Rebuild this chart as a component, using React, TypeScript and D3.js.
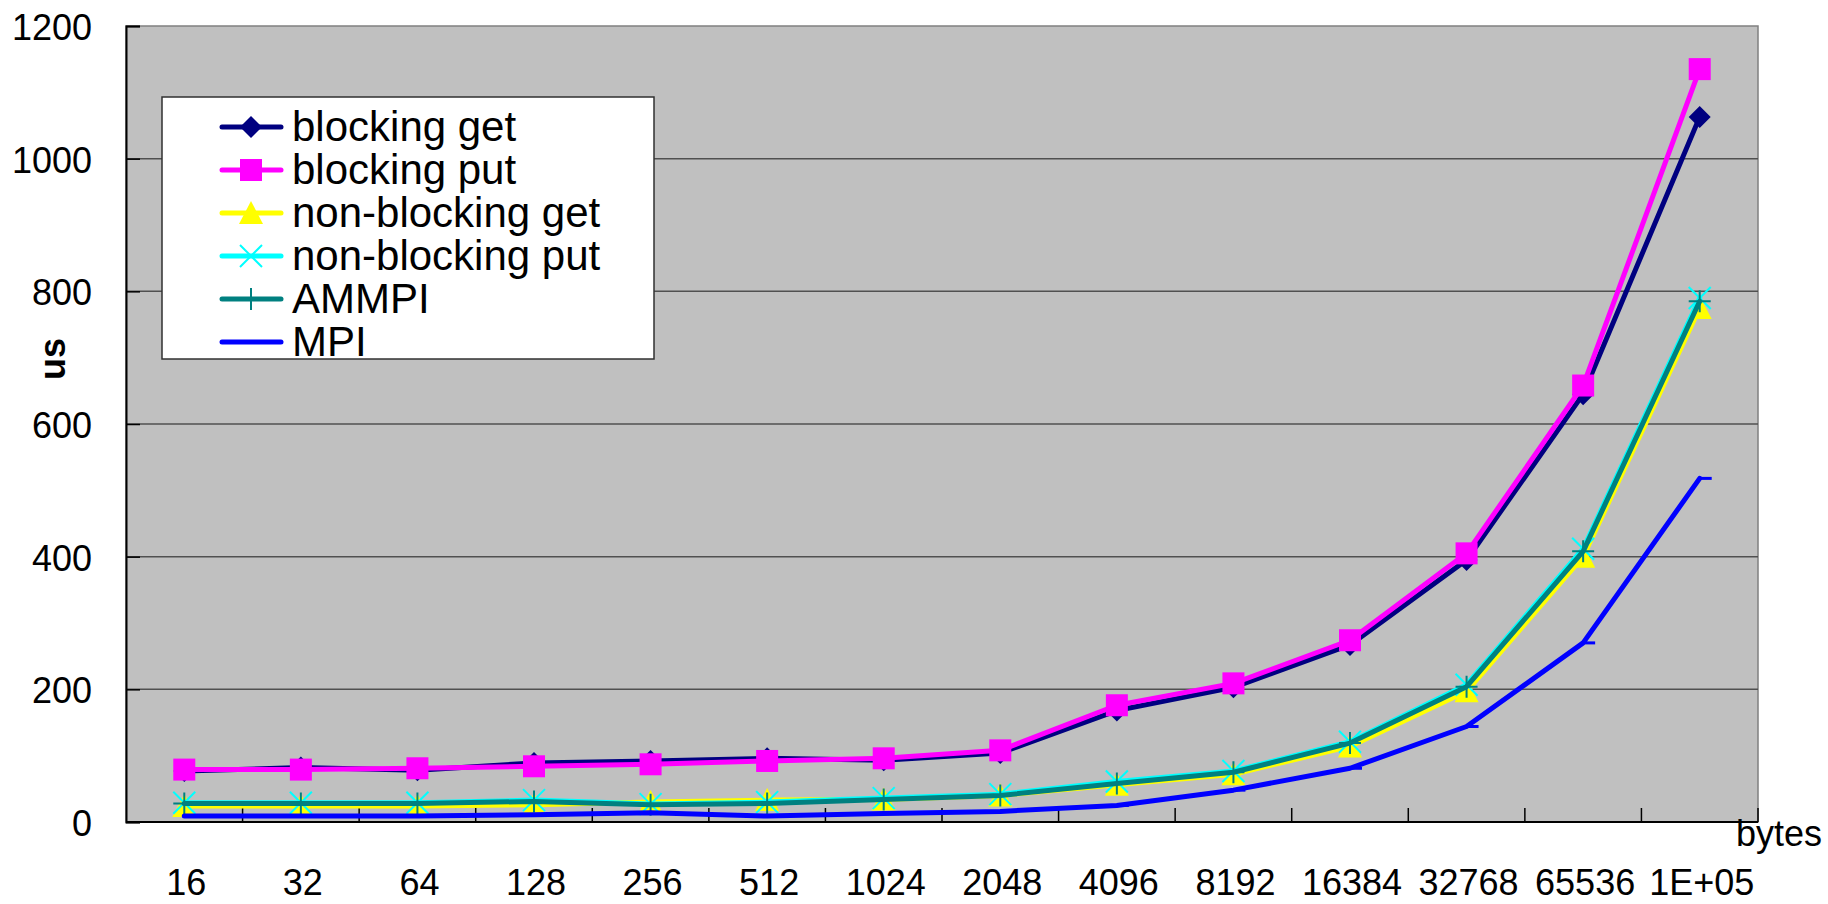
import * as d3 from 'd3';
import React, { useEffect, useRef } from 'react';

const categories = ['16', '32', '64', '128', '256', '512', '1024', '2048', '4096', '8192', '16384', '32768', '65536', '1E+05'];

const blockingGet = [77, 82, 78, 89, 92, 96, 93, 104, 168, 203, 267, 395, 645, 1063];
const blockingPut = [79, 79, 81, 84, 87, 92, 96, 108, 176, 209, 274, 405, 658, 1135];
const nonBlockingGet = [24, 24, 24, 26, 30, 33, 34, 40, 56, 72, 114, 197, 400, 775];
const nonBlockingPut = [29, 29, 29, 33, 27, 30, 36, 42, 61, 77, 121, 207, 412, 790];
const ammpi = [28, 28, 28, 31, 26, 28, 34, 40, 58, 75, 119, 204, 408, 785];
const mpi = [9, 9, 9, 11, 14, 9, 13, 16, 25, 48, 81, 144, 270, 518];

const yTicks = [0, 200, 400, 600, 800, 1000, 1200];

type MarkerKind = 'diamond' | 'square' | 'triangle' | 'x' | 'plus' | 'dash';

interface Series {
  name: string;
  values: number[];
  color: string;
  width: number;
  marker: MarkerKind;
}

const series: Series[] = [
  { name: 'blocking get', values: blockingGet, color: '#000080', width: 5, marker: 'diamond' },
  { name: 'blocking put', values: blockingPut, color: '#ff00ff', width: 5, marker: 'square' },
  { name: 'non-blocking get', values: nonBlockingGet, color: '#ffff00', width: 5, marker: 'triangle' },
  { name: 'non-blocking put', values: nonBlockingPut, color: '#00ffff', width: 5, marker: 'x' },
  { name: 'AMMPI', values: ammpi, color: '#008080', width: 5, marker: 'plus' },
  { name: 'MPI', values: mpi, color: '#0000ff', width: 5, marker: 'dash' },
];

const FONT = '"Liberation Sans", Arial, sans-serif';

function drawMarker(g: d3.Selection<SVGGElement, unknown, null, undefined>, kind: MarkerKind, x: number, y: number, color: string) {
  const s = 11;
  if (kind === 'diamond') {
    g.append('path').attr('d', `M${x},${y - s}L${x + s},${y}L${x},${y + s}L${x - s},${y}Z`).attr('fill', color);
  } else if (kind === 'square') {
    g.append('rect').attr('x', x - s).attr('y', y - s).attr('width', 2 * s).attr('height', 2 * s).attr('fill', color);
  } else if (kind === 'triangle') {
    g.append('path').attr('d', `M${x},${y - s - 1}L${x + s + 1},${y + s}L${x - s - 1},${y + s}Z`).attr('fill', color);
  } else if (kind === 'x') {
    g.append('path').attr('d', `M${x - s},${y - s}L${x + s},${y + s}M${x + s},${y - s}L${x - s},${y + s}`)
      .attr('stroke', color).attr('stroke-width', 2);
  } else if (kind === 'plus') {
    g.append('path').attr('d', `M${x},${y - s}L${x},${y + s}M${x - s},${y}L${x + s},${y}`)
      .attr('stroke', color).attr('stroke-width', 2);
  } else {
    g.append('path').attr('d', `M${x},${y}L${x + 12},${y}`).attr('stroke', color).attr('stroke-width', 3);
  }
}

const App: React.FC = () => {
  const ref = useRef<SVGSVGElement>(null);

  useEffect(() => {
    if (!ref.current) return;
    document.body.style.margin = '0';

    const width = 1828;
    const height = 904;
    const left = 126, right = 1758, top = 26, bottom = 822;

    const svg = d3.select(ref.current);
    svg.selectAll('*').remove();
    svg.attr('width', width).attr('height', height).style('display', 'block');

    const x = d3.scaleBand<string>().domain(categories).range([left, right]);
    const y = d3.scaleLinear().domain([0, 1200]).range([bottom, top]);
    const cx = (c: string) => (x(c) ?? 0) + x.bandwidth() / 2;

    // plot background
    svg.append('rect')
      .attr('x', left).attr('y', top)
      .attr('width', right - left).attr('height', bottom - top)
      .attr('fill', '#c0c0c0')
      .attr('stroke', '#808080').attr('stroke-width', 1.5);

    // gridlines
    svg.append('g')
      .selectAll('line')
      .data(yTicks.filter(t => t > 0 && t < 1200))
      .enter()
      .append('line')
      .attr('x1', left).attr('x2', right)
      .attr('y1', d => y(d)).attr('y2', d => y(d))
      .attr('stroke', '#505050').attr('stroke-width', 1.5);

    // y axis
    const yAxis = svg.append('g')
      .attr('transform', `translate(${left},0)`)
      .call(d3.axisRight(y).tickValues(yTicks).tickSize(14).tickFormat(() => ''));
    yAxis.select('.domain').attr('stroke', '#000').attr('stroke-width', 2);
    yAxis.selectAll('.tick line').attr('stroke', '#000').attr('stroke-width', 1.5);

    svg.append('g')
      .selectAll('text')
      .data(yTicks)
      .enter()
      .append('text')
      .attr('x', 92)
      .attr('y', d => y(d) + 14)
      .attr('text-anchor', 'end')
      .style('font-family', FONT)
      .style('font-size', '36px')
      .text(d => String(d));

    // x axis with ticks between categories
    const boundaries = categories.slice(1).map(c => x(c) ?? 0).concat([right]);
    svg.append('g')
      .selectAll('line')
      .data(boundaries)
      .enter()
      .append('line')
      .attr('x1', d => d).attr('x2', d => d)
      .attr('y1', bottom).attr('y2', bottom - 14)
      .attr('stroke', '#000').attr('stroke-width', 1.5);
    svg.append('line')
      .attr('x1', left).attr('x2', right)
      .attr('y1', bottom).attr('y2', bottom)
      .attr('stroke', '#000').attr('stroke-width', 2);

    svg.append('g')
      .selectAll('text')
      .data(categories)
      .enter()
      .append('text')
      .attr('x', d => cx(d) + 2)
      .attr('y', 895)
      .attr('text-anchor', 'middle')
      .style('font-family', FONT)
      .style('font-size', '36px')
      .text(d => d);

    // axis titles
    svg.append('text')
      .attr('transform', 'translate(65,359) rotate(-90)')
      .attr('text-anchor', 'middle')
      .style('font-family', FONT)
      .style('font-size', '36px')
      .style('font-weight', 'bold')
      .text('us');

    svg.append('text')
      .attr('x', 1822).attr('y', 846)
      .attr('text-anchor', 'end')
      .style('font-family', FONT)
      .style('font-size', '36px')
      .text('bytes');

    // series
    const line = d3.line<number>()
      .x((_, i) => cx(categories[i]))
      .y(d => y(d));

    series.forEach(s => {
      const g = svg.append('g');
      g.append('path')
        .attr('d', line(s.values))
        .attr('fill', 'none')
        .attr('stroke', s.color)
        .attr('stroke-width', s.width)
        .attr('stroke-linejoin', 'round')
        .attr('stroke-linecap', 'round');
      s.values.forEach((v, i) => drawMarker(g, s.marker, cx(categories[i]), y(v), s.color));
    });

    // legend
    const lg = svg.append('g');
    lg.append('rect')
      .attr('x', 162).attr('y', 97)
      .attr('width', 654 - 162).attr('height', 359 - 97)
      .attr('fill', '#fff')
      .attr('stroke', '#303030').attr('stroke-width', 1.5);

    const rowY = d3.scaleLinear().domain([0, 1]).range([127, 170]);
    series.forEach((s, i) => {
      const ry = rowY(i);
      const g = lg.append('g');
      g.append('line')
        .attr('x1', 222).attr('x2', 281)
        .attr('y1', ry).attr('y2', ry)
        .attr('stroke', s.color).attr('stroke-width', 5)
        .attr('stroke-linecap', 'round');
      if (s.marker !== 'dash') drawMarker(g, s.marker, 251, ry, s.color);
      g.append('text')
        .attr('x', 292).attr('y', ry + 14)
        .style('font-family', FONT)
        .style('font-size', '42px')
        .text(s.name);
    });
  }, []);

  return <svg ref={ref} />;
};

export default App;
